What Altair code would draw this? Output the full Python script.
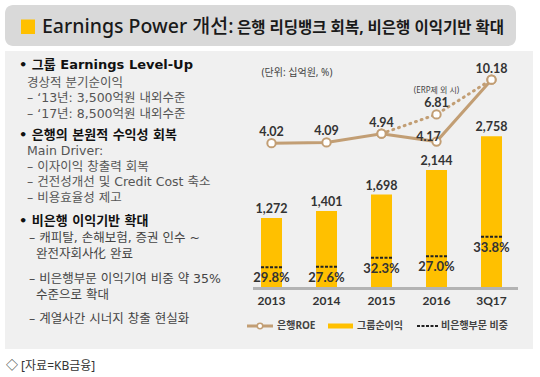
import altair as alt
import pandas as pd

# ---- data ----
periods = ["2013", "2014", "2015", "2016", "3Q17"]
group_profit = [1272, 1401, 1698, 2144, 2758]          # 그룹순이익 (십억원)
bank_roe = [4.02, 4.09, 4.94, 4.17, 10.18]              # 은행ROE (%)
nonbank_share = [29.8, 27.6, 32.3, 27.0, 33.8]          # 비은행부문 비중 (%)
erp_periods = ["2015", "2016", "3Q17"]
erp_roe = [4.94, 6.81, 10.18]                           # ERP 제외 시 ROE

title_main = "Earnings Power 개선:"
title_sub = "은행 리딩뱅크 회복, 비은행 이익기반 확대"
unit_text = "(단위: 십억원, %)"
erp_text = "(ERP제 외 시)"
legend_labels = ["은행ROE", "그룹순이익", "비은행부문 비중"]
footer_text = "◇ [자료=KB금융]"

left_lines = [
    ("• 그룹 Earnings Level-Up", "h"),
    ("경상적 분기순이익", "s"),
    ("– ‘13년: 3,500억원 내외수준", "s"),
    ("– ‘17년: 8,500억원 내외수준", "s"),
    ("• 은행의 본원적 수익성 회복", "h"),
    ("Main Driver:", "s"),
    ("– 이자이익 창출력 회복", "s"),
    ("– 건전성개선 및 Credit Cost 축소", "s"),
    ("– 비용효율성 제고", "s"),
    ("• 비은행 이익기반 확대", "h"),
    ("– 캐피탈, 손해보험, 증권 인수 ~", "t"),
    ("완전자회사化 완료", "u"),
    ("– 비은행부문 이익기여 비중 약 35%", "t"),
    ("수준으로 확대", "u"),
    ("– 계열사간 시너지 창출 현실화", "t"),
]
left_y = [65, 82.5, 98, 113.5, 135, 151, 166.5, 182, 198, 221, 238, 254, 279, 295, 319]

# ---- style ----
FONT = "Noto Sans, Noto Sans CJK KR"
LFONT = "DejaVu Sans, Noto Sans CJK KR"
NUMFONT = "Lato, Noto Sans CJK KR"
YELLOW = "#FFC000"
TAN = "#C29E74"
PANEL = "#F0F0F0"
TITLEBOX = "#D9D9D9"

df = pd.DataFrame({"period": periods, "profit": group_profit,
                   "roe": bank_roe, "share": nonbank_share})
erp_df = pd.DataFrame({"period": erp_periods, "roe": erp_roe})
dummy = pd.DataFrame({"d": [0]})

xs = alt.Scale(type="point", domain=periods, range=[271.5, 491.5], padding=0)
X = alt.X("period:N", scale=xs, axis=None)
bar_scale = dict(domain=[0, 4000], range=[288, 68], nice=False, zero=True)
roe_scale = dict(domain=[0, 10], range=[184.6, 81.5], nice=False, zero=False)


def deco():
    return alt.Chart(dummy)


layers = []

# backgrounds
layers.append(deco().mark_rect(fill=PANEL).encode(
    x=alt.value(5), x2=alt.value(533), y=alt.value(51), y2=alt.value(349)))
layers.append(deco().mark_rect(fill=TITLEBOX, cornerRadius=8).encode(
    x=alt.value(5), x2=alt.value(516), y=alt.value(5), y2=alt.value(46)))
layers.append(deco().mark_rect(fill=YELLOW).encode(
    x=alt.value(21), x2=alt.value(35), y=alt.value(19.5), y2=alt.value(34)))
layers.append(deco().mark_text(align="left", baseline="middle", font=FONT,
                               fontSize=19.5, fontWeight=500, color="#1a1a1a").encode(
    x=alt.value(42), y=alt.value(26.5), text=alt.value(title_main)))
layers.append(deco().mark_text(align="left", baseline="middle", font=FONT,
                               fontSize=15.5, fontWeight="bold", color="#1a1a1a").encode(
    x=alt.value(237), y=alt.value(27.5), text=alt.value(title_sub)))

# left panel text
for (txt, kind), yy in zip(left_lines, left_y):
    if kind == "h":
        props = dict(fontSize=13, fontWeight="bold", color="#111111")
        xx = 19
    elif kind == "s":
        props = dict(fontSize=12.5, fontWeight="normal", color="#555555")
        xx = 27
    elif kind == "t":
        props = dict(fontSize=12.5, fontWeight="normal", color="#444444")
        xx = 29
    else:
        props = dict(fontSize=12.5, fontWeight="normal", color="#444444")
        xx = 36
    layers.append(deco().mark_text(align="left", baseline="middle", font=LFONT, **props).encode(
        x=alt.value(xx), y=alt.value(yy), text=alt.value(txt)))

layers.append(deco().mark_text(align="left", baseline="middle", font=FONT,
                               fontSize=12, color="#333333").encode(
    x=alt.value(6), y=alt.value(366), text=alt.value(footer_text)))

# unit note
layers.append(deco().mark_text(align="center", baseline="middle", font=FONT,
                               fontSize=10, color="#444444").encode(
    x=alt.value(297), y=alt.value(73), text=alt.value(unit_text)))

# bars
base = alt.Chart(df)
layers.append(base.mark_bar(size=21, color=YELLOW).encode(
    x=X, y=alt.Y("profit:Q", scale=alt.Scale(**bar_scale), axis=None)))
layers.append(base.mark_text(baseline="middle", dy=-9, font=NUMFONT, fontSize=12.5,
                             fontWeight="bold", color="#333333").encode(
    x=X, y=alt.Y("profit:Q", scale=alt.Scale(**bar_scale), axis=None),
    text=alt.Text("profit:Q", format=",d")))

# non-bank share dashes and labels
nb = base.transform_calculate(nb="datum.profit * datum.share / 100",
                              lab="format(datum.share, '.1f') + '%'")
layers.append(nb.mark_rule(strokeWidth=2, color="#222222", strokeDash=[3, 1.5],
                           xOffset=-10.5, x2Offset=10.5).encode(
    x=X, x2=alt.X2("period"),
    y=alt.Y("nb:Q", scale=alt.Scale(**bar_scale), axis=None)))
layers.append(nb.mark_text(baseline="middle", dy=11, font=NUMFONT, fontSize=13,
                           fontWeight="bold", color="#333333").encode(
    x=X, y=alt.Y("nb:Q", scale=alt.Scale(**bar_scale), axis=None),
    text="lab:N"))

# baseline
layers.append(deco().mark_rule(color="#B3B3B3", strokeWidth=3).encode(
    x=alt.value(253), x2=alt.value(518), y=alt.value(288.5)))

# x labels
layers.append(base.mark_text(baseline="middle", font=NUMFONT, fontSize=12,
                             fontWeight="bold", color="#333333").encode(
    x=X, y=alt.value(301), text="period:N"))

# ERP dotted line
layers.append(alt.Chart(erp_df).mark_line(color=TAN, strokeWidth=3, strokeDash=[1, 5],
                                          strokeCap="round").encode(
    x=X, y=alt.Y("roe:Q", scale=alt.Scale(**roe_scale), axis=None)))
# ROE line
layers.append(base.mark_line(color=TAN, strokeWidth=3).encode(
    x=X, y=alt.Y("roe:Q", scale=alt.Scale(**roe_scale), axis=None)))
layers.append(alt.Chart(erp_df).mark_point(filled=True, fill="white", stroke=TAN,
                                           strokeWidth=2, size=70, opacity=1).encode(
    x=X, y=alt.Y("roe:Q", scale=alt.Scale(**roe_scale), axis=None)))
layers.append(base.mark_point(filled=True, fill="white", stroke=TAN,
                              strokeWidth=2, size=70, opacity=1).encode(
    x=X, y=alt.Y("roe:Q", scale=alt.Scale(**roe_scale), axis=None)))

# ROE labels
roe_lab = dict(baseline="middle", font=NUMFONT, fontSize=12.5, fontWeight="bold", color="#333333")
layers.append(base.transform_filter("datum.period != '2016'").mark_text(dy=-11, **roe_lab).encode(
    x=X, y=alt.Y("roe:Q", scale=alt.Scale(**roe_scale), axis=None),
    text=alt.Text("roe:Q", format=".2f")))
layers.append(base.transform_filter("datum.period == '2016'").mark_text(dx=-8, dy=-5, **roe_lab).encode(
    x=X, y=alt.Y("roe:Q", scale=alt.Scale(**roe_scale), axis=None),
    text=alt.Text("roe:Q", format=".2f")))
layers.append(alt.Chart(erp_df).transform_filter("datum.period == '2016'").mark_text(dy=-11, **roe_lab).encode(
    x=X, y=alt.Y("roe:Q", scale=alt.Scale(**roe_scale), axis=None),
    text=alt.Text("roe:Q", format=".2f")))
layers.append(alt.Chart(erp_df).transform_filter("datum.period == '2016'").mark_text(
    dy=-23, baseline="middle", font=FONT, fontSize=8, color="#444444").encode(
    x=X, y=alt.Y("roe:Q", scale=alt.Scale(**roe_scale), axis=None),
    text=alt.value(erp_text)))

# legend
ly = 326
layers.append(deco().mark_rule(color=TAN, strokeWidth=3).encode(
    x=alt.value(247), x2=alt.value(273), y=alt.value(ly)))
layers.append(deco().mark_point(filled=True, fill="white", stroke=TAN, strokeWidth=1.5,
                                size=30, opacity=1).encode(x=alt.value(260), y=alt.value(ly)))
layers.append(deco().mark_rect(fill=YELLOW).encode(
    x=alt.value(328), x2=alt.value(353), y=alt.value(ly - 2.5), y2=alt.value(ly + 2.5)))
layers.append(deco().mark_rule(color="#222222", strokeWidth=2, strokeDash=[3, 1.5]).encode(
    x=alt.value(417), x2=alt.value(438), y=alt.value(ly)))
for lx, lab in zip([277, 357, 441], legend_labels):
    layers.append(deco().mark_text(align="left", baseline="middle", font=FONT, fontSize=10,
                                   fontWeight="bold", color="#444444").encode(
        x=alt.value(lx), y=alt.value(ly), text=alt.value(lab)))

chart = alt.layer(*layers).resolve_scale(y="independent").properties(
    width=540, height=377, padding=0, background="white",
    autosize=alt.AutoSizeParams(type="none"),
).configure_view(stroke=None)

chart.save("out.html", embed_options={"renderer": "svg", "actions": False})
